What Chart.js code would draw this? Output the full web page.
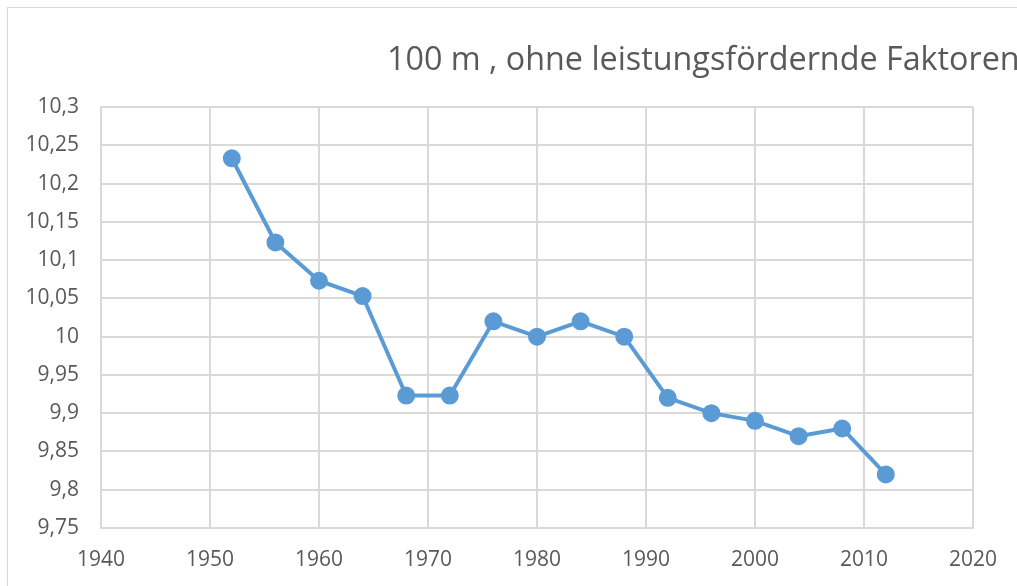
<!DOCTYPE html>
<html>
<head>
<meta charset="utf-8">
<script src="https://cdn.jsdelivr.net/npm/chart.js@4"></script>
<style>
  html, body { margin: 0; padding: 0; background: #fff; overflow: hidden; }
  #wrap { position: relative; width: 1017px; height: 586px; overflow: hidden; }
  #frame { position: absolute; left: 7px; top: 7px; width: 1030px; height: 600px; border: 1px solid #d9d9d9; }
  canvas { position: absolute; left: 0; top: 0; }
</style>
</head>
<body>
<div id="wrap">
  <div id="frame"></div>
  <canvas id="chart" width="1017" height="586"></canvas>
</div>
<script>
// Olympia-Jahre und Siegerzeiten (s)
const years = [1952, 1956, 1960, 1964, 1968, 1972, 1976, 1980, 1984, 1988, 1992, 1996, 2000, 2004, 2008, 2012];
const times = [10.233, 10.123, 10.073, 10.053, 9.923, 9.923, 10.02, 10.0, 10.02, 10.0, 9.92, 9.9, 9.89, 9.87, 9.88, 9.82];
const titleText = '100 m , ohne leistungsfördernde Faktoren';

const textColor = '#595959';
const gridColor = '#d9d9d9';
const fontFamily = "'Open Sans', sans-serif";

// Titel direkt auf die Leinwand, rechts abgeschnitten wie im Original
const titlePlugin = {
    id: 'leftTitle',
    afterDraw(chart) {
        const ctx = chart.ctx;
        ctx.save();
        ctx.fillStyle = textColor;
        ctx.font = '32.3px ' + fontFamily;
        ctx.textBaseline = 'alphabetic';
        ctx.textAlign = 'left';
        ctx.fillText(titleText, 387, 70);
        ctx.restore();
    }
};

const fmt = (v) => Number(v.toFixed(2)).toString().replace('.', ',');

new Chart(document.getElementById('chart'), {
    type: 'scatter',
    data: {
        datasets: [{
            data: years.map((y, i) => ({ x: y, y: times[i] })),
            showLine: true,
            borderColor: '#5b9bd5',
            backgroundColor: '#5b9bd5',
            borderWidth: 4,
            pointRadius: 7,
            pointHoverRadius: 7,
            tension: 0
        }]
    },
    options: {
        responsive: false,
        animation: false,
        layout: { padding: { top: 107, right: 44, bottom: 0, left: 0 } },
        plugins: {
            legend: { display: false },
            tooltip: { enabled: false }
        },
        scales: {
            x: {
                type: 'linear',
                min: 1940,
                max: 2020,
                afterFit: (s) => { s.height = 58; },
                grid: { color: gridColor, lineWidth: 2, drawTicks: false },
                border: { color: gridColor, width: 2 },
                ticks: {
                    stepSize: 10,
                    padding: 19,
                    color: textColor,
                    font: { family: fontFamily, size: 21 },
                    callback: (v) => String(v)
                }
            },
            y: {
                min: 9.75,
                max: 10.3,
                afterFit: (s) => { s.width = 101; },
                grid: { color: gridColor, lineWidth: 2, drawTicks: false },
                border: { color: gridColor, width: 2 },
                ticks: {
                    stepSize: 0.05,
                    padding: 22,
                    color: textColor,
                    font: { family: fontFamily, size: 21 },
                    callback: fmt
                }
            }
        }
    },
    plugins: [titlePlugin]
});
</script>
</body>
</html>
